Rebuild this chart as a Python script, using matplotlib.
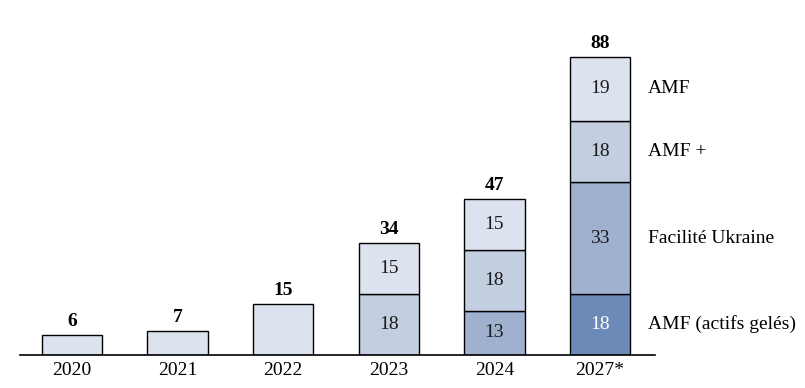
import matplotlib
matplotlib.use("Agg")
import matplotlib.pyplot as plt
import numpy as np

years = ["2020", "2021", "2022", "2023", "2024", "2027*"]
amf_geles = [0, 0, 0, 0, 0, 18]
facilite = [0, 0, 0, 0, 13, 33]
amf_plus = [0, 0, 0, 18, 18, 18]
amf = [6, 7, 15, 15, 15, 19]
totals = [6, 7, 15, 34, 47, 88]
series_names = ["AMF (actifs gelés)", "Facilité Ukraine", "AMF +", "AMF"]
colors = ["#6C8AB8", "#9FB1CF", "#C3CEE0", "#DDE3EE"]
text_colors = ["white", "#1a1a1a", "#1a1a1a", "#1a1a1a"]

plt.rcParams['font.family'] = ['Liberation Serif', 'DejaVu Serif']
FS = 14

fig = plt.figure(figsize=(8.05, 3.88), dpi=100)
ax = fig.add_axes([20/805, 1 - 355/388, 635/805, 355/388])

x = np.arange(len(years))
series = [amf_geles, facilite, amf_plus, amf]
bottom = np.zeros(len(years))
width = 0.57
for vals, col, tc in zip(series, colors, text_colors):
    vals = np.array(vals, dtype=float)
    mask = vals > 0
    ax.bar(x[mask], vals[mask], width, bottom=bottom[mask], color=col,
           edgecolor="black", linewidth=1.0)
    for i in np.where(mask)[0]:
        if i >= 3:
            ax.text(x[i], bottom[i] + vals[i] / 2, f"{int(vals[i])}",
                    ha="center", va="center", fontsize=FS, color=tc)
    bottom = bottom + vals

for i, t in enumerate(totals):
    ax.text(x[i], bottom[i] + 1.5, str(t), ha="center", va="bottom",
            fontsize=FS, fontweight="bold", color="black")

# right-side series labels at 2027* segment centers
b = 0.0
last = len(years) - 1
for vals, name in zip(series, series_names):
    v = vals[last]
    ax.text(last + 0.455, b + v / 2, name, ha="left", va="center",
            fontsize=FS, color="black", clip_on=False)
    b += v

ax.set_xlim(-0.49, 5.52)
ax.set_ylim(0, 104.7)
ax.set_xticks(x)
ax.set_xticklabels(years, fontsize=FS)
ax.tick_params(axis="x", length=0, pad=5)
ax.set_yticks([])
for s in ["top", "right", "left"]:
    ax.spines[s].set_visible(False)
ax.spines["bottom"].set_linewidth(1.2)
ax.patch.set_alpha(0)

fig.savefig("out.png", dpi=100)
